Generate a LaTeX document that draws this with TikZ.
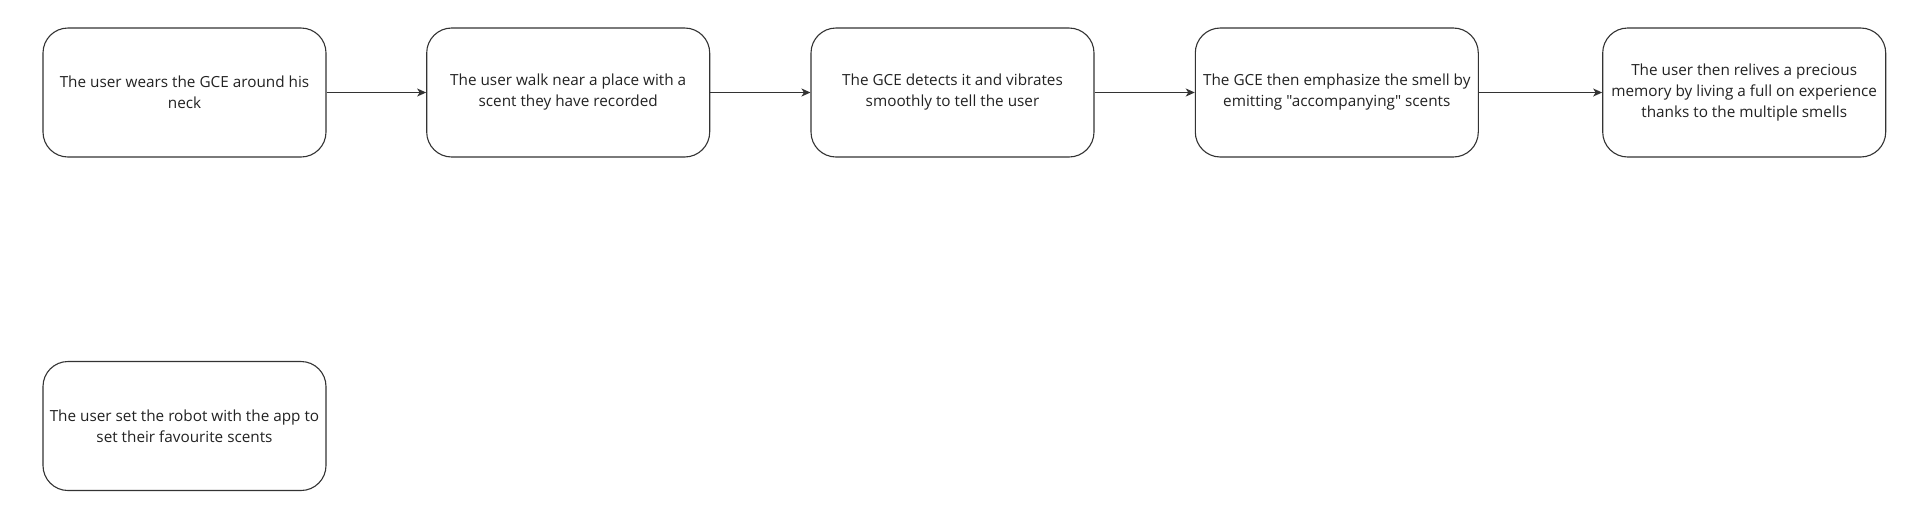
\documentclass[tikz,border=0pt]{standalone}
\usepackage{fontspec}
\setmainfont{Open Sans}[Ligatures=TeXOff]
\usetikzlibrary{arrows.meta}
\definecolor{ink}{HTML}{333333}
\definecolor{txt}{HTML}{222222}
\begin{document}
\begin{tikzpicture}[x=1pt,y=-1pt,
  stepbox/.style={draw=ink, line width=1.1pt, rounded corners=25pt, minimum width=283pt, minimum height=129pt, inner sep=0pt, align=center, text=txt, font=\fontsize{15.3pt}{21pt}\selectfont},
  flow/.style={draw=ink, line width=1.1pt, -{Stealth[length=9pt,width=8pt,inset=2.5pt]}}]
\useasboundingbox[fill=white] (0,0) rectangle (1910,523);
\node[stepbox] (a) at (184.5,92.5) {The user wears the GCE around his\\neck};
\node[stepbox] (b) at (568.2,92.5) {The user walk near a place with a\\scent they have recorded};
\node[stepbox] (c) at (952.5,92.5) {The GCE detects it and vibrates\\smoothly to tell the user};
\node[stepbox] (d) at (1336.8,92.5) {The GCE then emphasize the smell by\\emitting "accompanying" scents};
\node[stepbox] (e) at (1744.2,92.5) {The user then relives a precious\\memory by living a full on experience\\thanks to the multiple smells};
\node[stepbox] (f) at (184.5,426) {The user set the robot with the app to\\set their favourite scents};
\draw[flow] (a) -- (b);
\draw[flow] (b) -- (c);
\draw[flow] (c) -- (d);
\draw[flow] (d) -- (e);
\end{tikzpicture}
\end{document}
